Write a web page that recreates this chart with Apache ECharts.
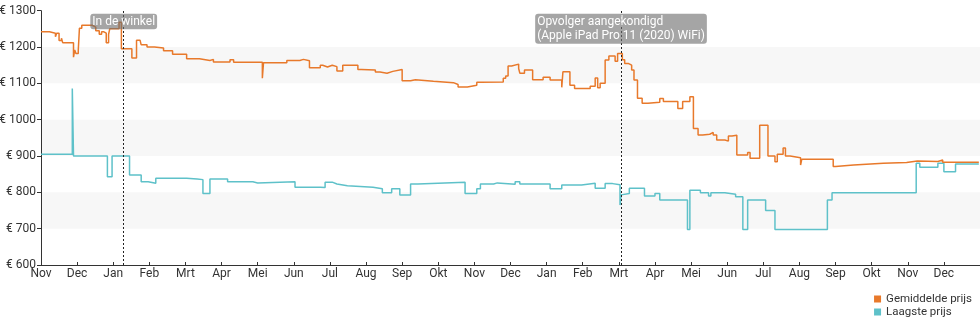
<!DOCTYPE html>
<html>
<head>
<meta charset="utf-8">
<script src="https://cdn.jsdelivr.net/npm/echarts@6/dist/echarts.min.js"></script>
<style>
  html, body { margin: 0; padding: 0; background: #fff; }
  #chart { width: 980px; height: 325px; }
</style>
</head>
<body>
<div id="chart"></div>
<script>
// Month labels (Dutch), the axis starts in November 2018
const monthNames = ['Jan', 'Feb', 'Mrt', 'Apr', 'Mei', 'Jun', 'Jul', 'Aug', 'Sep', 'Okt', 'Nov', 'Dec'];
const axisStart = { year: 2018, month: 11 };
const axisMonths = 26;

// Price ticks (euro)
const priceTicks = [600, 700, 800, 900, 1000, 1100, 1200, 1300];

// Average price: [date from which the price holds, price]
const avgPrice = [
  ['2018-11-01', 1242], ['2018-11-08', 1238], ['2018-11-13', 1228], ['2018-11-14', 1238],
  ['2018-11-16', 1218], ['2018-11-18', 1224], ['2018-11-19', 1212], ['2018-11-28', 1172],
  ['2018-11-29', 1192], ['2018-11-30', 1182], ['2018-12-02', 1192], ['2018-12-03', 1252],
  ['2018-12-05', 1260], ['2018-12-14', 1255], ['2018-12-17', 1245], ['2018-12-20', 1235],
  ['2018-12-22', 1242], ['2018-12-24', 1238], ['2018-12-26', 1212], ['2018-12-28', 1235],
  ['2018-12-29', 1250], ['2019-01-06', 1268], ['2019-01-08', 1195], ['2019-01-17', 1170],
  ['2019-01-21', 1219], ['2019-01-24', 1215], ['2019-01-25', 1206], ['2019-01-30', 1200],
  ['2019-02-05', 1197], ['2019-02-12', 1190], ['2019-02-19', 1180], ['2019-03-02', 1168],
  ['2019-03-13', 1163], ['2019-03-22', 1166], ['2019-03-25', 1159], ['2019-04-08', 1165],
  ['2019-04-11', 1158], ['2019-05-05', 1114], ['2019-05-06', 1157], ['2019-05-26', 1163],
  ['2019-06-06', 1166], ['2019-06-09', 1162], ['2019-06-14', 1143], ['2019-06-23', 1150],
  ['2019-06-25', 1145], ['2019-06-29', 1150], ['2019-07-03', 1146], ['2019-07-07', 1134],
  ['2019-07-12', 1150], ['2019-07-25', 1138], ['2019-07-28', 1137], ['2019-08-09', 1131],
  ['2019-08-13', 1128], ['2019-08-19', 1133], ['2019-08-24', 1138], ['2019-09-01', 1107],
  ['2019-09-08', 1110], ['2019-09-12', 1106], ['2019-09-27', 1102], ['2019-10-14', 1097],
  ['2019-10-18', 1090], ['2019-10-26', 1095], ['2019-11-03', 1103], ['2019-11-06', 1104],
  ['2019-11-25', 1114], ['2019-11-27', 1120], ['2019-11-29', 1148], ['2019-12-02', 1153],
  ['2019-12-08', 1141], ['2019-12-09', 1128], ['2019-12-13', 1137], ['2019-12-20', 1110],
  ['2019-12-29', 1117], ['2020-01-04', 1109], ['2020-01-14', 1089], ['2020-01-15', 1132],
  ['2020-01-21', 1095], ['2020-01-25', 1086], ['2020-02-07', 1092], ['2020-02-11', 1115],
  ['2020-02-13', 1088], ['2020-02-15', 1100], ['2020-02-19', 1164], ['2020-02-22', 1175],
  ['2020-02-27', 1161], ['2020-02-29', 1182], ['2020-03-04', 1165], ['2020-03-06', 1155],
  ['2020-03-09', 1150], ['2020-03-12', 1137], ['2020-03-14', 1109], ['2020-03-17', 1059],
  ['2020-03-21', 1045], ['2020-03-26', 1048], ['2020-04-05', 1058], ['2020-04-08', 1050],
  ['2020-04-20', 1031], ['2020-04-24', 1050], ['2020-04-30', 1063], ['2020-05-03', 976],
  ['2020-05-07', 958], ['2020-05-11', 960], ['2020-05-17', 965], ['2020-05-20', 958],
  ['2020-05-23', 944], ['2020-05-30', 941], ['2020-06-02', 955], ['2020-06-05', 957],
  ['2020-06-09', 903], ['2020-06-18', 910], ['2020-06-20', 894], ['2020-06-28', 985],
  ['2020-07-05', 900], ['2020-07-11', 884], ['2020-07-13', 905], ['2020-07-18', 922],
  ['2020-07-20', 900], ['2020-07-24', 895], ['2020-08-02', 875], ['2020-08-03', 891],
  ['2020-08-30', 871], ['2020-09-01', 875], ['2020-09-16', 880], ['2020-10-11', 882],
  ['2020-10-31', 886], ['2020-11-09', 885], ['2020-11-26', 889], ['2020-11-30', 883],
  ['2020-12-31', 883]
];

// Lowest price: [date from which the price holds, price]
const lowPrice = [
  ['2018-11-01', 905], ['2018-11-27', 1086], ['2018-11-28', 900], ['2018-12-27', 843],
  ['2018-12-31', 900], ['2019-01-15', 848], ['2019-01-25', 829], ['2019-01-31', 825],
  ['2019-02-06', 839], ['2019-03-02', 837], ['2019-03-11', 835], ['2019-03-16', 797],
  ['2019-03-22', 837], ['2019-04-06', 829], ['2019-04-27', 826], ['2019-05-01', 829],
  ['2019-06-02', 814], ['2019-06-23', 813], ['2019-06-27', 828], ['2019-07-03', 823],
  ['2019-07-07', 818], ['2019-07-16', 814], ['2019-08-07', 810], ['2019-08-15', 799],
  ['2019-08-23', 810], ['2019-08-30', 793], ['2019-09-08', 823], ['2019-09-14', 828],
  ['2019-10-24', 797], ['2019-11-03', 810], ['2019-11-06', 823], ['2019-11-17', 826],
  ['2019-11-20', 822], ['2019-12-05', 829], ['2019-12-09', 823], ['2020-01-04', 810],
  ['2020-01-14', 820], ['2020-01-31', 825], ['2020-02-11', 811], ['2020-02-19', 824],
  ['2020-02-25', 821], ['2020-03-02', 765], ['2020-03-03', 793], ['2020-03-04', 797],
  ['2020-03-10', 811], ['2020-03-23', 790], ['2020-04-01', 797], ['2020-04-05', 779],
  ['2020-04-28', 698], ['2020-04-30', 806], ['2020-05-09', 799], ['2020-05-16', 790],
  ['2020-05-18', 799], ['2020-05-30', 795], ['2020-06-08', 788], ['2020-06-14', 698],
  ['2020-06-18', 779], ['2020-07-03', 750], ['2020-07-11', 698], ['2020-08-25', 779],
  ['2020-08-29', 799], ['2020-11-08', 880], ['2020-11-11', 869], ['2020-11-26', 880],
  ['2020-12-01', 857], ['2020-12-11', 878], ['2020-12-31', 878]
];

// Product events drawn as vertical dotted lines
const events = [
  { date: '2019-01-10', lines: ['In de winkel'] },
  { date: '2020-03-03', lines: ['Opvolger aangekondigd', '(Apple iPad Pro 11 (2020) WiFi)'] }
];

// Each month gets the same width on the x axis; a date maps to a fractional month index
function monthPos(dateStr) {
  const [y, m, d] = dateStr.split('-').map(Number);
  const daysInMonth = new Date(y, m, 0).getDate();
  return (y - axisStart.year) * 12 + (m - axisStart.month) + (d - 1) / daysInMonth;
}
const toSeries = rows => rows.map(([date, price]) => [monthPos(date), price]);

const chart = echarts.init(document.getElementById('chart'), null, { renderer: 'canvas' });
const font = 'Roboto, "Noto Sans", sans-serif';

chart.setOption({
  animation: false,
  textStyle: { fontFamily: font },
  grid: { left: 41, right: 0, top: 10.7, bottom: 60, containLabel: false, outerBoundsMode: 'none' },
  legend: {
    orient: 'vertical', right: 3, top: 288, itemGap: 1,
    itemWidth: 7, itemHeight: 7, icon: 'rect',
    textStyle: { fontSize: 11.5, color: '#333', fontFamily: font },
    data: ['Gemiddelde prijs', 'Laagste prijs']
  },
  xAxis: {
    type: 'value', min: 0, max: axisMonths, interval: 1,
    axisLine: { lineStyle: { color: '#333' } },
    axisTick: { inside: true, length: 3, lineStyle: { color: '#333' } },
    splitLine: { show: false },
    axisLabel: {
      color: '#333', fontSize: 12, margin: 3, fontFamily: font,
      showMaxLabel: false,
      formatter: v => monthNames[(axisStart.month - 1 + v) % 12]
    }
  },
  yAxis: {
    type: 'value', min: priceTicks[0], max: priceTicks[priceTicks.length - 1], interval: 100,
    axisLine: { show: true, lineStyle: { color: '#333' } },
    axisTick: { show: true, length: 4, lineStyle: { color: '#333' } },
    splitLine: { show: false },
    splitArea: { show: true, areaStyle: { color: ['rgba(255,255,255,0)', '#f7f7f7'] } },
    axisLabel: { color: '#333', fontSize: 12, margin: 5, fontFamily: font, formatter: v => '€ ' + v }
  },
  series: [
    {
      name: 'Gemiddelde prijs', type: 'line', step: 'end', showSymbol: false,
      data: toSeries(avgPrice), color: '#e8792b',
      lineStyle: { width: 1.5, color: '#e8792b' }, z: 3,
      markLine: {
        silent: true, symbol: 'none',
        lineStyle: { color: '#222', type: [2, 2], width: 1 },
        label: {
          show: true, position: 'end', distance: -3,
          align: 'center', verticalAlign: 'top',
          backgroundColor: 'rgba(110,110,110,0.62)', borderRadius: 3, padding: [1, 2, 0, 2],
          formatter: p => p.name,
          rich: {
            l: { align: 'left', color: '#fff', fontSize: 12, lineHeight: 14.5, fontFamily: font }
          }
        },
        data: events.map(e => ({
          name: e.lines.map(t => '{l|' + t + '}').join('\n'),
          xAxis: monthPos(e.date)
        }))
      }
    },
    {
      name: 'Laagste prijs', type: 'line', step: 'end', showSymbol: false,
      data: toSeries(lowPrice), color: '#5ec1c9',
      lineStyle: { width: 1.5, color: '#5ec1c9' }, z: 2
    }
  ]
});
</script>
</body>
</html>
